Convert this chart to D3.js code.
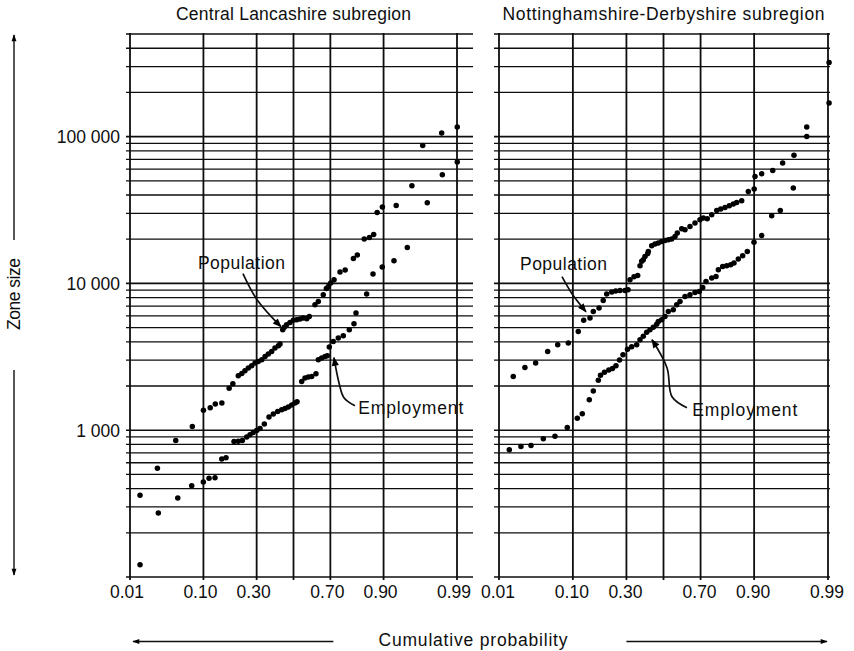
<!DOCTYPE html>
<html><head><meta charset="utf-8">
<script src="https://cdn.jsdelivr.net/npm/d3@7"></script>
<style>
html,body{margin:0;padding:0;background:#fff;}
svg{display:block;font-family:"Liberation Sans",Arial,Helvetica,sans-serif;}
</style></head><body>
<svg id="chart" width="854" height="651"></svg>
<script>
// ---------------- data ----------------
const panelTitles = ["Central Lancashire subregion", "Nottinghamshire-Derbyshire subregion"];
const probTicks = [0.01, 0.10, 0.30, 0.50, 0.70, 0.90, 0.99];
const probTickLabels = ["0.01", "0.10", "0.30", "", "0.70", "0.90", "0.99"];
const sizeTicks = [1000, 10000, 100000];
const sizeTickLabels = ["1 000", "10 000", "100 000"];
const xAxisTitle = "Cumulative probability";
const yAxisTitle = "Zone size";

// Central Lancashire – population
const lancsPopP = [0.0145,0.0264,0.0469,0.075,0.100,0.118,0.133,0.154,0.180,0.194,0.216,0.231,0.245,0.260,0.276,0.292,0.308,0.326,0.343,0.360,0.378,0.396,0.415,0.424,0.439,0.448,0.461,0.480,0.499,0.518,0.537,0.555,0.575,0.589,0.620,0.638,0.664,0.680,0.690,0.702,0.718,0.746,0.769,0.803,0.818,0.843,0.860,0.873,0.883,0.897,0.928,0.954,0.967,0.9825,0.9901];
const lancsPopSize = [360,550,850,1060,1370,1420,1510,1530,1930,2070,2350,2430,2540,2650,2750,2870,2940,3020,3180,3300,3440,3630,3760,3870,4840,5020,5230,5420,5600,5660,5720,5810,5750,5960,7160,7540,8380,9230,9540,10060,10600,11960,12360,14780,15640,20070,20580,21570,30460,33150,33990,46300,87100,105800,116300];
// Central Lancashire – employment
const lancsEmpP = [0.0145,0.0272,0.0498,0.0738,0.0997,0.1147,0.132,0.1536,0.1685,0.1987,0.216,0.2333,0.2527,0.268,0.2837,0.3003,0.3169,0.339,0.3637,0.387,0.411,0.4333,0.4518,0.4705,0.4898,0.5085,0.520,0.5464,0.565,0.5834,0.602,0.6255,0.638,0.6558,0.673,0.6847,0.6947,0.7143,0.738,0.7606,0.7863,0.8053,0.813,0.851,0.871,0.8967,0.9236,0.9473,0.9715,0.9829,0.9901];
const lancsEmpSize = [121,273,345,419,444,470,475,636,650,839,840,852,899,932,966,997,1029,1102,1230,1288,1343,1379,1407,1439,1485,1532,1563,2150,2268,2303,2325,2426,3021,3103,3182,3217,3688,4025,4246,4402,4836,5315,6286,8470,11590,12940,14280,17590,35450,55030,67140];
// Nottinghamshire-Derbyshire – population
const nottsPopP = [0.0168,0.025,0.0353,0.0507,0.0673,0.0891,0.114,0.1295,0.1493,0.1604,0.181,0.197,0.2109,0.232,0.2495,0.2692,0.293,0.308,0.3178,0.3383,0.3576,0.370,0.379,0.3876,0.3968,0.4116,0.4149,0.4337,0.4522,0.4707,0.4898,0.5085,0.527,0.546,0.5646,0.5773,0.6016,0.6195,0.646,0.672,0.697,0.7133,0.732,0.7524,0.7741,0.7908,0.8078,0.824,0.8383,0.8497,0.8656,0.8848,0.9002,0.9022,0.9176,0.9388,0.954,0.9675,0.9786,0.9904];
const nottsPopSize = [2325,2678,2870,3442,3823,3927,4710,5614,5812,6447,6798,7660,8470,8740,8877,8960,8960,9060,10600,11110,11340,13200,14130,14500,15280,15940,16520,18070,18550,18850,19320,19630,19850,20070,20900,22050,23590,23220,24450,25790,27170,27900,27590,29380,31440,32130,32940,33830,34750,35630,36590,42340,43950,53580,55880,58870,66110,74500,116300,320200];
// Nottinghamshire-Derbyshire – employment
const nottsEmpP = [0.0146,0.0219,0.0305,0.0446,0.0624,0.0868,0.1114,0.1254,0.147,0.1604,0.1783,0.1865,0.202,0.2196,0.2353,0.2508,0.2669,0.2834,0.3054,0.3264,0.3523,0.3698,0.3876,0.406,0.4243,0.4426,0.4617,0.4707,0.4898,0.5085,0.527,0.555,0.574,0.5923,0.6195,0.646,0.672,0.6936,0.7104,0.726,0.7524,0.7712,0.781,0.7987,0.8143,0.829,0.8406,0.855,0.8686,0.882,0.8997,0.9176,0.937,0.9507,0.9668,0.9786,0.9904];
const nottsEmpSize = [736,775,788,875,908,1045,1207,1295,1614,1846,2191,2370,2484,2570,2632,2751,3007,3268,3563,3706,3823,4135,4369,4651,4836,5029,5272,5511,5659,5961,6447,6619,7159,7541,8154,8375,8683,8820,9393,10320,10880,11160,12400,13060,13200,13410,13770,14670,15440,16520,19090,21200,28920,31440,44670,100300,169400];

// annotation labels (anchor in probability / size) and leader paths
const lancsNotes = [
  {text:"Population", p:0.087, v:12590, len:87, path:[[0.236,11650],[0.302,7740],[0.429,5070]]},
  {text:"Employment", p:0.8217, v:1290, len:105, path:[[0.809,1468],[0.7637,1665],[0.7412,2106],[0.7177,3119]]}
];
const nottsNotes = [
  {text:"Population", p:0.0212, v:12265, len:87, path:[[0.0756,11110],[0.0978,8510],[0.1365,6417]]},
  {text:"Employment", p:0.658, v:1256, len:105, path:[[0.630,1422],[0.548,1690],[0.5197,2666],[0.4354,4135]]}
];

// ---------------- helpers ----------------
function probit(p){
  const a=[-3.969683028665376e+01,2.209460984245205e+02,-2.759285104469687e+02,1.383577518672690e+02,-3.066479806614716e+01,2.506628277459239e+00];
  const b=[-5.447609879822406e+01,1.615858368580409e+02,-1.556989798598866e+02,6.680131188771972e+01,-1.328068155288572e+01];
  const c=[-7.784894002430293e-03,-3.223964580411365e-01,-2.400758277161838e+00,-2.549732539343734e+00,4.374664141464968e+00,2.938163982698783e+00];
  const d=[7.784695709041462e-03,3.224671290700398e-01,2.445134137142996e+00,3.754408661907416e+00];
  const pl=0.02425, ph=1-pl; let q,r;
  if(p<pl){q=Math.sqrt(-2*Math.log(p));return (((((c[0]*q+c[1])*q+c[2])*q+c[3])*q+c[4])*q+c[5])/((((d[0]*q+d[1])*q+d[2])*q+d[3])*q+1);}
  if(p<=ph){q=p-0.5;r=q*q;return (((((a[0]*r+a[1])*r+a[2])*r+a[3])*r+a[4])*r+a[5])*q/(((((b[0]*r+b[1])*r+b[2])*r+b[3])*r+b[4])*r+1);}
  q=Math.sqrt(-2*Math.log(1-p));return -(((((c[0]*q+c[1])*q+c[2])*q+c[3])*q+c[4])*q+c[5])/((((d[0]*q+d[1])*q+d[2])*q+d[3])*q+1);
}

const W=854, H=651;
const svg=d3.select("#chart");
svg.append("rect").attr("width",W).attr("height",H).attr("fill","#fff");

const defs=svg.append("defs");
defs.append("marker").attr("id","ah").attr("viewBox","0 0 10 10").attr("refX",9).attr("refY",5)
  .attr("markerWidth",10).attr("markerHeight",9).attr("markerUnits","userSpaceOnUse").attr("orient","auto")
  .append("path").attr("d","M0,1 L10,5 L0,9 Z").attr("fill","#000");
defs.append("marker").attr("id","ahs").attr("viewBox","0 0 10 10").attr("refX",9).attr("refY",5)
  .attr("markerWidth",8).attr("markerHeight",7).attr("markerUnits","userSpaceOnUse").attr("orient","auto")
  .append("path").attr("d","M0,1.5 L10,5 L0,8.5 Z").attr("fill","#000");

const ink="#0e0e0e";
const FS=17.5;
const y=d3.scaleLog().domain([100,500000]).range([577,34]);
const gridVals=[];
[100,1000,10000,100000].forEach(dec=>{for(let k=1;k<=9;k++){const v=k*dec; if(v<=500000) gridVals.push(v);}});

const panels=[
  {title:panelTitles[0], range:[130,457], extL:4, extR:16,
   series:[[lancsPopP,lancsPopSize],[lancsEmpP,lancsEmpSize]], notes:lancsNotes},
  {title:panelTitles[1], range:[499,828], extL:5, extR:2,
   series:[[nottsPopP,nottsPopSize],[nottsEmpP,nottsEmpSize]], notes:nottsNotes}
];
const xs=[];

panels.forEach((pn,i)=>{
  const zs=d3.scaleLinear().domain([probit(0.01),probit(0.99)]).range(pn.range);
  const x=p=>zs(probit(p));
  xs.push(x);
  const g=svg.append("g");
  const x0=pn.range[0]-pn.extL, x1=pn.range[1]+pn.extR;
  // horizontal grid
  g.selectAll("line.h").data(gridVals).join("line").attr("class","h")
    .attr("x1",x0).attr("x2",x1).attr("y1",d=>y(d)).attr("y2",d=>y(d))
    .attr("stroke",ink).attr("stroke-width",d=>[1,10,100,1000,5000].includes(d/100)?1.6:1.3);
  // vertical grid
  g.selectAll("line.v").data(probTicks).join("line").attr("class","v")
    .attr("x1",d=>x(d)).attr("x2",d=>x(d)).attr("y1",y(500000)-1).attr("y2",y(100)+3)
    .attr("stroke",ink).attr("stroke-width",1.8);
  // x tick labels
  g.selectAll("text.xt").data(probTicks).join("text").attr("class","xt")
    .attr("x",d=>x(d)-(i===0?3:1)).attr("y",y(100)+21).attr("text-anchor","middle")
    .attr("font-size",FS).attr("fill",ink).text((d,j)=>probTickLabels[j]);
  // title
  g.append("text").attr("x",x(0.5)).attr("y",20).attr("text-anchor","middle")
    .attr("font-size",FS).attr("fill",ink)
    .attr("textLength",i===0?235:322).attr("lengthAdjust","spacing").text(pn.title);
  // dots
  pn.series.forEach(([P,V])=>{
    g.selectAll(null).data(P.map((p,k)=>[p,V[k]])).join("circle")
      .attr("cx",d=>x(d[0])).attr("cy",d=>y(d[1])).attr("r",2.75).attr("fill","#000");
  });
  // annotations
  const line=d3.line().x(d=>x(d[0])).y(d=>y(d[1])).curve(d3.curveCatmullRom.alpha(0.5));
  pn.notes.forEach(n=>{
    g.append("path").attr("d",line(n.path)).attr("fill","none").attr("stroke",ink)
      .attr("stroke-width",1.7).attr("marker-end","url(#ah)");
    g.append("text").attr("x",x(n.p)).attr("y",y(n.v)).attr("font-size",FS).attr("fill",ink)
      .attr("textLength",n.len).attr("lengthAdjust","spacing").text(n.text);
  });
});

// y tick labels (left panel only)
svg.selectAll("text.yt").data(sizeTicks).join("text").attr("class","yt")
  .attr("x",120).attr("y",d=>y(d)+6.5).attr("text-anchor","end")
  .attr("font-size",FS).attr("fill",ink).text((d,j)=>sizeTickLabels[j]);

// y axis title with arrows
svg.append("text").attr("transform","translate(20,294) rotate(-90)").attr("text-anchor","middle")
  .attr("font-size",FS).attr("fill",ink).attr("textLength",72).attr("lengthAdjust","spacing").text(yAxisTitle);
svg.append("line").attr("x1",14).attr("x2",14).attr("y1",240).attr("y2",y(500000)+1)
  .attr("stroke",ink).attr("stroke-width",1.4).attr("marker-end","url(#ahs)");
svg.append("line").attr("x1",14).attr("x2",14).attr("y1",370).attr("y2",y(100)-2)
  .attr("stroke",ink).attr("stroke-width",1.4).attr("marker-end","url(#ahs)");

// x axis title with arrows
svg.append("text").attr("x",473).attr("y",646).attr("text-anchor","middle")
  .attr("font-size",FS).attr("fill",ink).attr("textLength",189).attr("lengthAdjust","spacing").text(xAxisTitle);
svg.append("line").attr("x1",xs[0](0.70)+3).attr("x2",xs[0](0.01)+3).attr("y1",641.5).attr("y2",641.5)
  .attr("stroke",ink).attr("stroke-width",1.4).attr("marker-end","url(#ahs)");
svg.append("line").attr("x1",xs[1](0.30)).attr("x2",xs[1](0.99)-1).attr("y1",641.5).attr("y2",641.5)
  .attr("stroke",ink).attr("stroke-width",1.4).attr("marker-end","url(#ahs)");
</script>
</body></html>
